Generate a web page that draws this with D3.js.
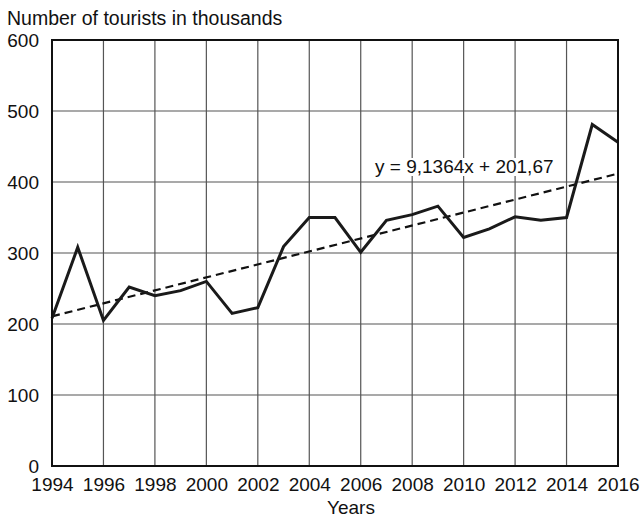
<!DOCTYPE html>
<html>
<head>
<meta charset="utf-8">
<script src="https://cdn.jsdelivr.net/npm/d3@7"></script>
<style>
  body { margin: 0; background: #fff; }
  svg { font-family: "Liberation Sans", Arial, sans-serif; }
</style>
</head>
<body>
<script>
// values
var years = d3.range(1994, 2017)
var tourists = [208, 308, 205, 252, 240, 247, 260, 215, 223, 309, 350, 350, 301,
                346, 354, 366, 322, 334, 351, 346, 350, 481, 456]
var xTicks = d3.range(1994, 2017, 2)
var yTicks = [0, 100, 200, 300, 400, 500, 600]
// regression shown on the chart: y = 9,1364x + 201,67 (x = 1 for 1994)
var trendSlope = 9.1364
var trendIntercept = 201.67
var trendLabel = "y = 9,1364x + 201,67"

var width = 642, height = 518
var margin = {left: 52, right: 24, top: 40, bottom: 52}
var fs = 19

var svg = d3.select("body").append("svg")
    .attr("width", width).attr("height", height)

var x = d3.scaleLinear().domain([1994, 2016]).range([margin.left, width - margin.right])
var y = d3.scaleLinear().domain([0, 600]).range([height - margin.bottom, margin.top])

// grid
svg.append("g").selectAll("line")
    .data(xTicks.slice(1, -1))
    .enter().append("line")
    .attr("x1", function(d) { return x(d) }).attr("x2", function(d) { return x(d) })
    .attr("y1", y(0)).attr("y2", y(600))
    .attr("stroke", "#555").attr("stroke-width", 1.2)

svg.append("g").selectAll("line")
    .data(yTicks.slice(1, -1))
    .enter().append("line")
    .attr("x1", x(1994)).attr("x2", x(2016))
    .attr("y1", function(d) { return y(d) }).attr("y2", function(d) { return y(d) })
    .attr("stroke", "#555").attr("stroke-width", 1.2)

// trend line
var trend = [1994, 2016].map(function(yr) {
  return {year: yr, value: trendSlope * (yr - 1993) + trendIntercept}
})
svg.append("path")
    .datum(trend)
    .attr("fill", "none").attr("stroke", "#111").attr("stroke-width", 2.2)
    .attr("stroke-dasharray", "8,5")
    .attr("d", d3.line().x(function(d) { return x(d.year) }).y(function(d) { return y(d.value) }))

// label with white box
var lbl = svg.append("g")
var txt = lbl.append("text")
    .attr("x", 375).attr("y", 173)
    .attr("font-size", fs).attr("fill", "#111")
    .text(trendLabel)
var bb = txt.node().getBBox()
lbl.insert("rect", "text")
    .attr("x", bb.x - 2).attr("y", bb.y + 2)
    .attr("width", bb.width + 4).attr("height", bb.height - 3)
    .attr("fill", "#fff")

// data line
svg.append("path")
    .datum(tourists)
    .attr("fill", "none").attr("stroke", "#1a1a1a").attr("stroke-width", 3)
    .attr("stroke-linejoin", "miter")
    .attr("d", d3.line().x(function(d, i) { return x(years[i]) }).y(function(d) { return y(d) }))

// frame
svg.append("rect")
    .attr("x", x(1994)).attr("y", y(600))
    .attr("width", x(2016) - x(1994)).attr("height", y(0) - y(600))
    .attr("fill", "none").attr("stroke", "#111").attr("stroke-width", 2)

// axes labels
var xAxis = svg.append("g")
    .attr("transform", "translate(0," + y(0) + ")")
    .call(d3.axisBottom(x).tickValues(xTicks).tickFormat(d3.format("d")).tickSize(0).tickPadding(12))
xAxis.select(".domain").remove()
xAxis.selectAll("text").attr("font-size", fs).attr("fill", "#111").attr("font-family", null)

var yAxis = svg.append("g")
    .attr("transform", "translate(" + x(1994) + ",0)")
    .call(d3.axisLeft(y).tickValues(yTicks).tickSize(0).tickPadding(13))
yAxis.select(".domain").remove()
yAxis.selectAll("text").attr("font-size", fs).attr("fill", "#111").attr("font-family", null)

svg.append("text")
    .attr("x", 7).attr("y", 25)
    .attr("font-size", 19.5).attr("fill", "#111")
    .text("Number of tourists in thousands")

svg.append("text")
    .attr("x", 351).attr("y", 514)
    .attr("text-anchor", "middle")
    .attr("font-size", fs).attr("fill", "#111")
    .text("Years")
</script>
</body>
</html>
